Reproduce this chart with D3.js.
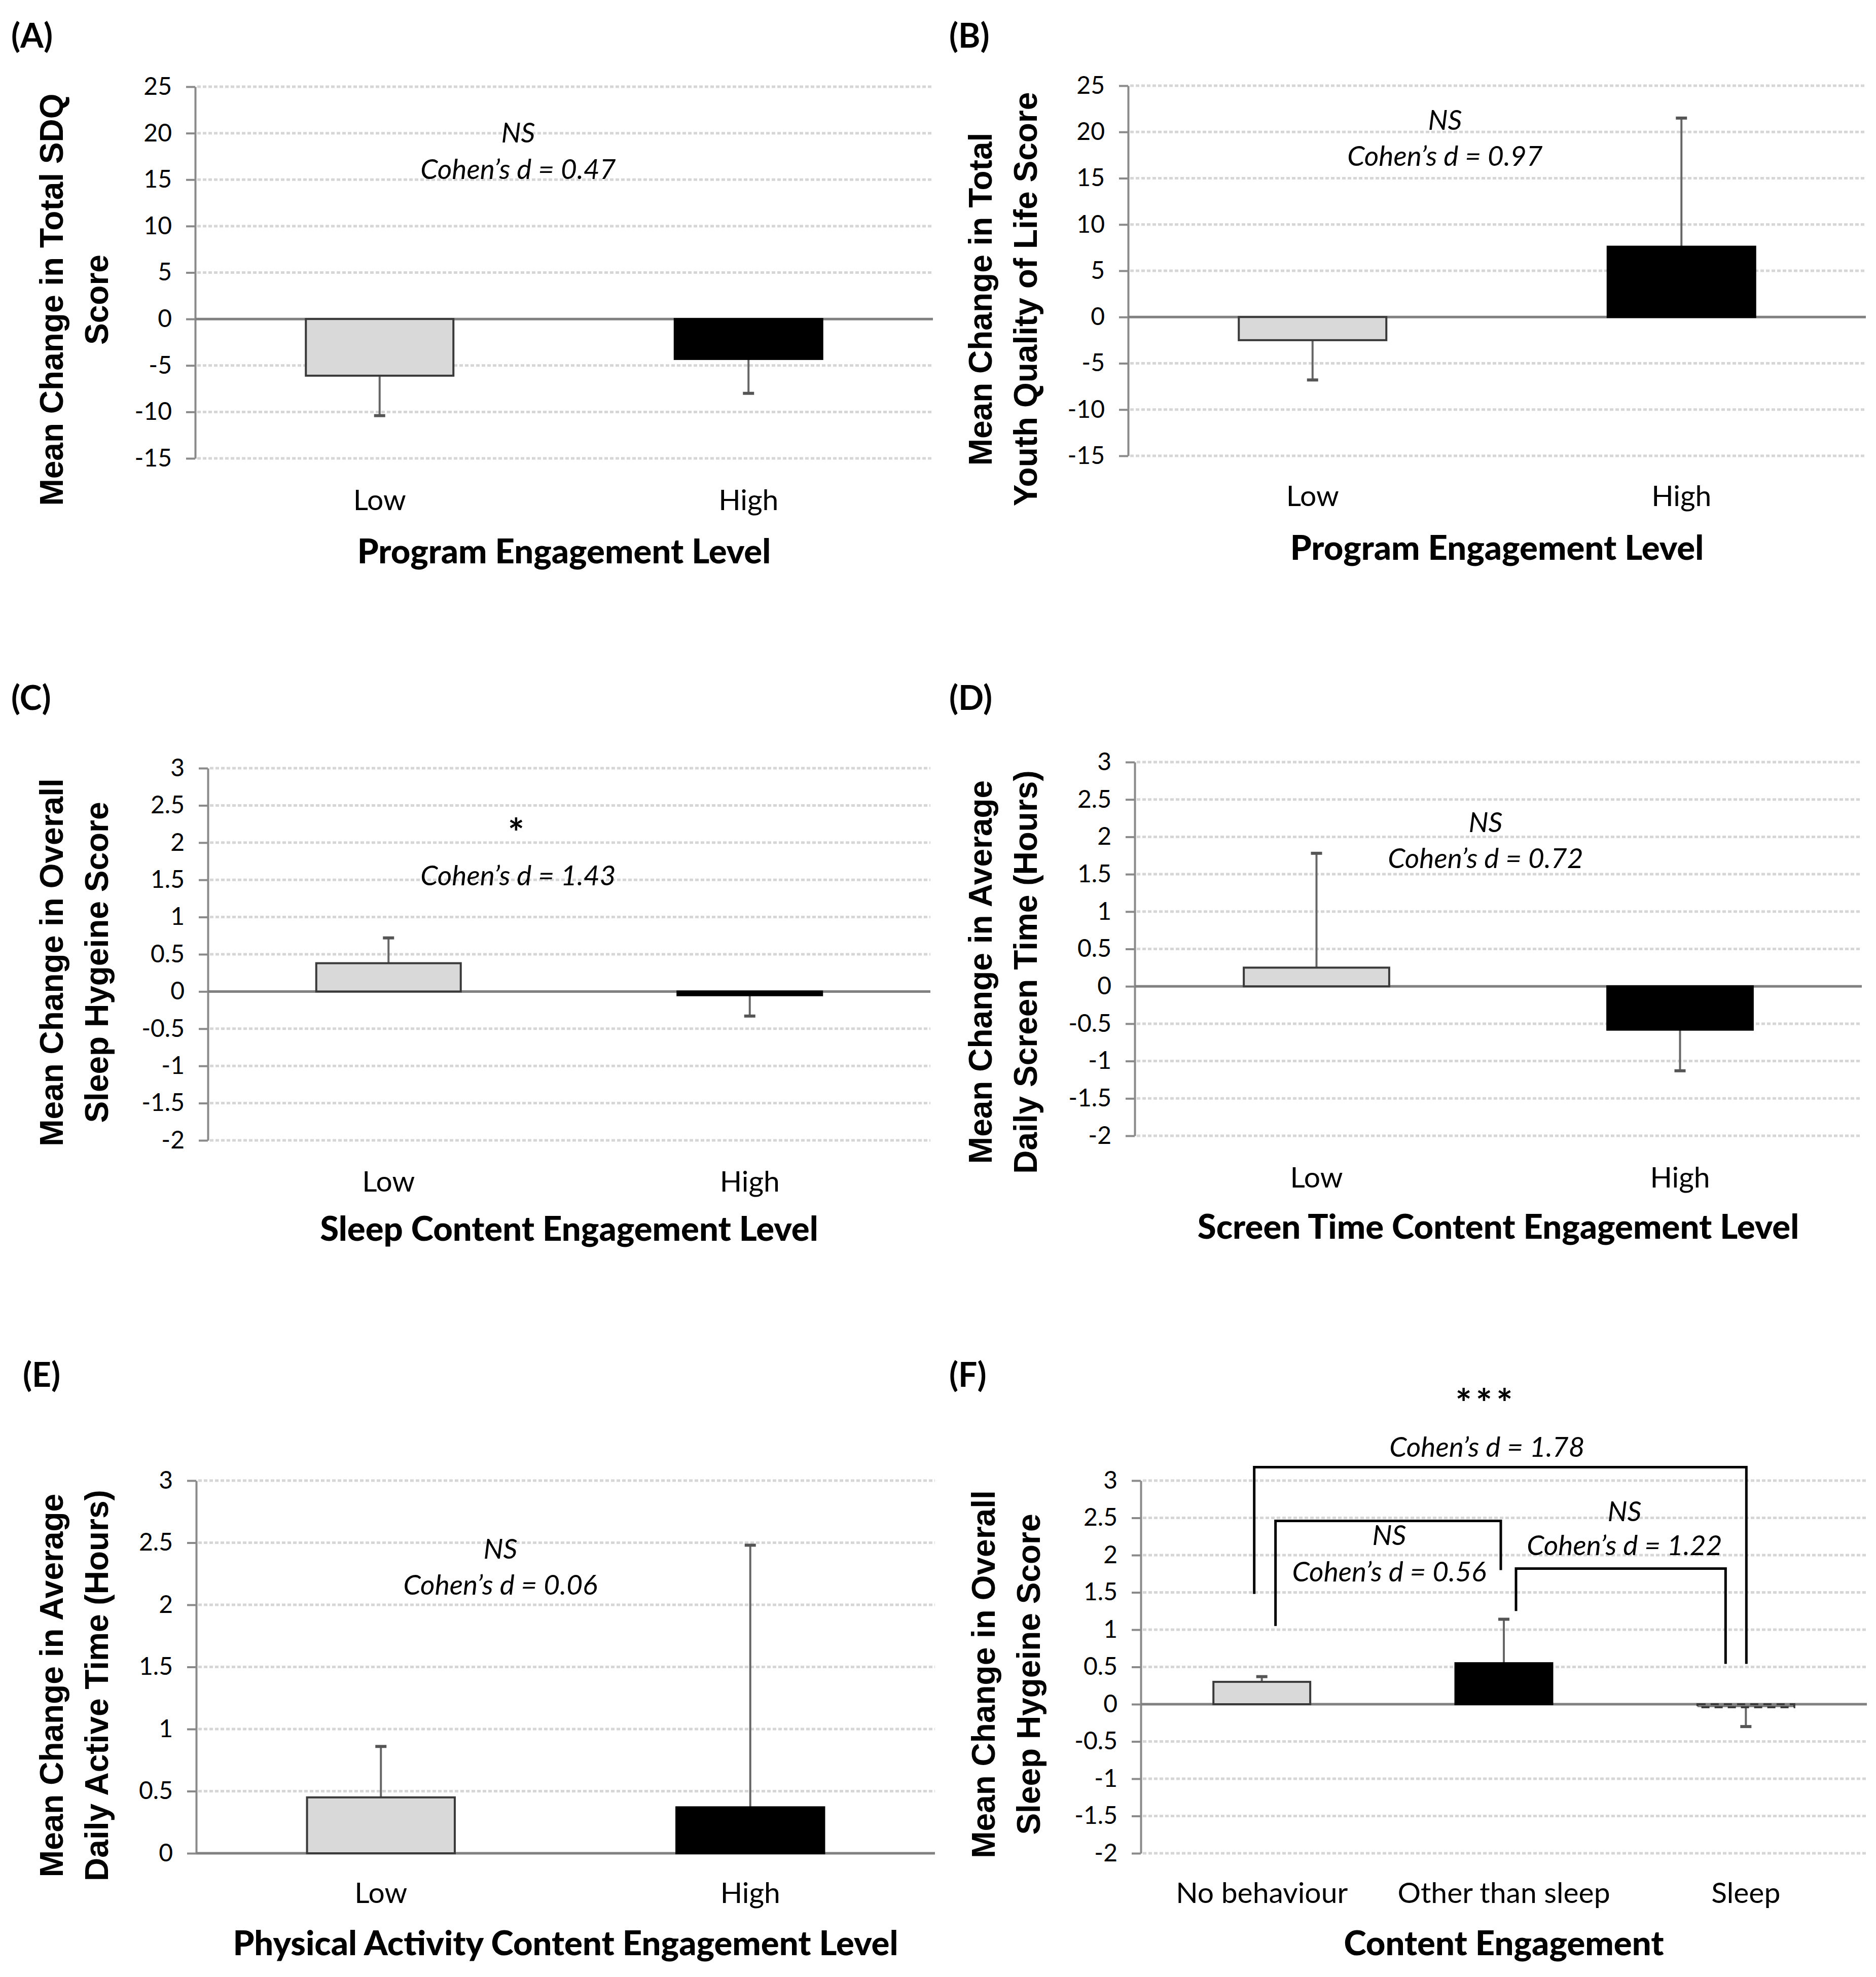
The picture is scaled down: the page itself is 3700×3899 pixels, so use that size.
<!DOCTYPE html>
<html>
<head>
<meta charset="utf-8">
<script src="https://cdn.jsdelivr.net/npm/d3@7"></script>
<style>
  body { margin: 0; background: #fff; }
</style>
</head>
<body>
<div id="chart"></div>
<script>
// canvas size, same as the reference picture
var svgWidth = 3700;
var svgHeight = 3899;

// categories
var levelCats = ["Low", "High"];
var contentCats = ["No behaviour", "Other than sleep", "Sleep"];

// mean change per bar
var sdqMeans = [-6.1, -4.3];
var qolMeans = [-2.5, 7.6];
var sleepMeans = [0.38, -0.05];
var screenMeans = [0.25, -0.58];
var activeMeans = [0.45, 0.37];
var contentMeans = [0.3, 0.55, -0.04];

// error bar length (drawn away from zero, one sided)
var sdqErrs = [4.3, 3.7];
var qolErrs = [4.3, 13.9];
var sleepErrs = [0.34, 0.28];
var screenErrs = [1.53, 0.55];
var activeErrs = [0.41, 2.11];
var contentErrs = [0.07, 0.59, 0.26];

// y tick values
var scoreTicks = [-15, -10, -5, 0, 5, 10, 15, 20, 25];
var smallTicks = [-2, -1.5, -1, -0.5, 0, 0.5, 1, 1.5, 2, 2.5, 3];
var activeTicks = [0, 0.5, 1, 1.5, 2, 2.5, 3];

// significance + effect size labels (A..E)
var sigLabels = ["NS", "NS", "*", "NS", "NS"];
var cohenLabels = ["Cohen\u2019s d = 0.47", "Cohen\u2019s d = 0.97", "Cohen\u2019s d = 1.43",
  "Cohen\u2019s d = 0.72", "Cohen\u2019s d = 0.06"];

// panel F comparisons: [from, to]
var fPairs = [[0, 2], [0, 1], [1, 2]];
var fSig = ["***", "NS", "NS"];
var fCohen = ["Cohen\u2019s d = 1.78", "Cohen\u2019s d = 0.56", "Cohen\u2019s d = 1.22"];

var levelFills = ["#d9d9d9", "#000000"];
var contentFills = ["#d9d9d9", "#000000", "#808080"];

var normalFont = "Lato, 'Open Sans', sans-serif";
var titleFont = "'Liberation Sans', Arial, sans-serif";

var svg = d3.select("#chart")
  .append("svg")
  .attr("width", svgWidth)
  .attr("height", svgHeight)
  .style("background", "#fff");

// layout of every panel (pixels)
var panels = [
  { tag: "(A)", tagX: 22, tagY: 94, x0: 385, x1: 1840, yTop: 171, yBot: 904,
    ticks: scoreTicks, cats: levelCats, means: sdqMeans, errs: sdqErrs, fills: levelFills,
    yTitle: ["Mean Change in Total SDQ", "Score"], yTitleX: [124, 213], yTitleY: 591,
    xTitle: "Program Engagement Level", xTitleY: 1087, catY: 985,
    notes: [[sigLabels[0], 1022, 261], [cohenLabels[0], 1022, 333]] },
  { tag: "(B)", tagX: 1872, tagY: 94, x0: 2225, x1: 3680, yTop: 169, yBot: 899,
    ticks: scoreTicks, cats: levelCats, means: qolMeans, errs: qolErrs, fills: levelFills,
    yTitle: ["Mean Change in Total", "Youth Quality of Life Score"], yTitleX: [1956, 2045], yTitleY: 590,
    xTitle: "Program Engagement Level", xTitleY: 1080, catY: 977,
    notes: [[sigLabels[1], 2850, 236], [cohenLabels[1], 2850, 307]] },
  { tag: "(C)", tagX: 22, tagY: 1400, x0: 410, x1: 1835, yTop: 1515, yBot: 2249,
    ticks: smallTicks, cats: levelCats, means: sleepMeans, errs: sleepErrs, fills: levelFills,
    yTitle: ["Mean Change in Overall", "Sleep Hygeine Score"], yTitleX: [124, 213], yTitleY: 1898,
    xTitle: "Sleep Content Engagement Level", xTitleY: 2423, catY: 2329,
    notes: [[sigLabels[2], 1022, 1624], [cohenLabels[2], 1022, 1726]] },
  { tag: "(D)", tagX: 1872, tagY: 1400, x0: 2238, x1: 3672, yTop: 1503, yBot: 2240,
    ticks: smallTicks, cats: levelCats, means: screenMeans, errs: screenErrs, fills: levelFills,
    yTitle: ["Mean Change in Average", "Daily Screen Time (Hours)"], yTitleX: [1956, 2045], yTitleY: 1917,
    xTitle: "Screen Time Content Engagement Level", xTitleY: 2419, catY: 2321,
    notes: [[sigLabels[3], 2930, 1621], [cohenLabels[3], 2930, 1692]] },
  { tag: "(E)", tagX: 45, tagY: 2735, x0: 387, x1: 1844, yTop: 2920, yBot: 3655,
    ticks: activeTicks, cats: levelCats, means: activeMeans, errs: activeErrs, fills: levelFills,
    yTitle: ["Mean Change in Average", "Daily Active Time (Hours)"], yTitleX: [124, 213], yTitleY: 3324,
    xTitle: "Physical Activity Content Engagement Level", xTitleY: 3832, catY: 3732,
    notes: [[sigLabels[4], 987, 3054], [cohenLabels[4], 987, 3125]] },
  { tag: "(F)", tagX: 1872, tagY: 2735, x0: 2250, x1: 3682, yTop: 2920, yBot: 3655,
    ticks: smallTicks, cats: contentCats, means: contentMeans, errs: contentErrs, fills: contentFills,
    yTitle: ["Mean Change in Overall", "Sleep Hygeine Score"], yTitleX: [1962, 2051], yTitleY: 3302,
    xTitle: "Content Engagement", xTitleY: 3832, catY: 3732,
    notes: [[fSig[0], 2931, 2749], [fCohen[0], 2933, 2853],
            [fSig[1], 2740, 3027], [fCohen[1], 2740, 3099],
            [fSig[2], 3204, 2980], [fCohen[2], 3204, 3047]] }
];

// bracket geometry for panel F: top / end heights in data units, x offsets from category centre
var fBrackets = [
  { top: 3.18, leftEnd: 1.48, rightEnd: 0.54, dxL: -15, dxR: 1 },
  { top: 2.46, leftEnd: 1.05, rightEnd: 1.80, dxL: 27, dxR: -6 },
  { top: 1.82, leftEnd: 1.25, rightEnd: 0.54, dxL: 24, dxR: -40 }
];

function drawPanel(p) {
  var g = svg.append("g");

  g.append("text")
    .attr("x", p.tagX)
    .attr("y", p.tagY)
    .attr("font-family", normalFont)
    .attr("font-weight", "bold")
    .attr("font-size", 66)
    .text(p.tag);

  var xScale = d3.scaleBand()
    .domain(p.cats)
    .range([p.x0, p.x1])
    .paddingInner(0.6)
    .paddingOuter(0.3);

  var yScale = d3.scaleLinear()
    .domain([p.ticks[0], p.ticks[p.ticks.length - 1]])
    .range([p.yBot, p.yTop]);

  // dotted gridlines
  g.selectAll(".grid")
    .data(p.ticks.filter(t => t !== 0))
    .enter()
    .append("line")
    .attr("x1", p.x0 + 4)
    .attr("x2", p.x1)
    .attr("y1", d => yScale(d))
    .attr("y2", d => yScale(d))
    .attr("stroke", "#d6d6d6")
    .attr("stroke-width", 5)
    .attr("stroke-dasharray", "7 4");

  // y axis
  var yAxis = g.append("g")
    .attr("transform", `translate(${p.x0},0)`)
    .call(d3.axisLeft(yScale)
      .tickValues(p.ticks)
      .tickSize(18)
      .tickSizeOuter(0)
      .tickPadding(28)
      .tickFormat(d => String(d)));
  yAxis.attr("font-family", normalFont).attr("font-size", 48);
  yAxis.select(".domain").attr("stroke", "#8a8a8a").attr("stroke-width", 4);
  yAxis.selectAll(".tick line").attr("stroke", "#8a8a8a").attr("stroke-width", 4);
  yAxis.selectAll(".tick text").attr("fill", "#000");

  // zero line
  g.append("line")
    .attr("x1", p.x0)
    .attr("x2", p.x1)
    .attr("y1", yScale(0))
    .attr("y2", yScale(0))
    .attr("stroke", "#808080")
    .attr("stroke-width", 5);

  var rows = p.cats.map((c, i) => ({ cat: c, mean: p.means[i], err: p.errs[i], fill: p.fills[i] }));

  // error bars (under the bars)
  var errGroup = g.selectAll(".err")
    .data(rows)
    .enter()
    .append("g");
  errGroup.append("line")
    .attr("x1", d => xScale(d.cat) + xScale.bandwidth() / 2)
    .attr("x2", d => xScale(d.cat) + xScale.bandwidth() / 2)
    .attr("y1", d => yScale(d.mean))
    .attr("y2", d => yScale(d.mean + Math.sign(d.mean) * d.err))
    .attr("stroke", "#666")
    .attr("stroke-width", 4);
  errGroup.append("line")
    .attr("x1", d => xScale(d.cat) + xScale.bandwidth() / 2 - 11)
    .attr("x2", d => xScale(d.cat) + xScale.bandwidth() / 2 + 11)
    .attr("y1", d => yScale(d.mean + Math.sign(d.mean) * d.err))
    .attr("y2", d => yScale(d.mean + Math.sign(d.mean) * d.err))
    .attr("stroke", "#555")
    .attr("stroke-width", 6);

  // bars
  g.selectAll(".bar")
    .data(rows)
    .enter()
    .append("rect")
    .attr("x", d => xScale(d.cat))
    .attr("width", xScale.bandwidth())
    .attr("y", d => yScale(Math.max(0, d.mean)))
    .attr("height", d => Math.abs(yScale(d.mean) - yScale(0)))
    .attr("fill", d => d.fill)
    .attr("stroke", d => d.fill === "#000000" ? "#000" : "#3a3a3a")
    .attr("stroke-width", 4)
    .attr("stroke-dasharray", d => d.fill === "#808080" ? "16 10" : null);

  // category labels
  g.selectAll(".cat")
    .data(p.cats)
    .enter()
    .append("text")
    .attr("x", d => xScale(d) + xScale.bandwidth() / 2)
    .attr("y", p.catY)
    .attr("dy", "0.36em")
    .attr("text-anchor", "middle")
    .attr("font-family", normalFont)
    .attr("font-size", 57)
    .text(d => d);

  // x title
  g.append("text")
    .attr("x", (p.x0 + p.x1) / 2)
    .attr("y", p.xTitleY)
    .attr("dy", "0.36em")
    .attr("text-anchor", "middle")
    .attr("font-family", normalFont)
    .attr("font-weight", "900")
    .attr("font-size", 67)
    .text(p.xTitle);

  // y title, two rotated lines
  p.yTitle.forEach((line, i) => {
    g.append("text")
      .attr("transform", `translate(${p.yTitleX[i]},${p.yTitleY}) rotate(-90)`)
      .attr("text-anchor", "middle")
      .attr("font-family", titleFont)
      .attr("font-weight", "bold")
      .attr("font-size", 64)
      .text(line);
  });

  // significance notes
  p.notes.forEach(n => {
    var isStar = n[0].indexOf("*") === 0;
    g.append("text")
      .attr("x", n[1])
      .attr("y", n[2])
      .attr("dy", isStar ? "0.6em" : "0.36em")
      .attr("text-anchor", "middle")
      .attr("font-family", normalFont)
      .attr("font-style", isStar ? "normal" : "italic")
      .attr("font-weight", isStar ? "bold" : "normal")
      .attr("font-size", isStar ? 76 : 55)
      .attr("letter-spacing", isStar ? 8 : 0)
      .text(n[0]);
  });

  return { g: g, x: xScale, y: yScale };
}

var drawn = panels.map(drawPanel);

// brackets for panel F
var pf = drawn[5];
fPairs.forEach((pair, i) => {
  var b = fBrackets[i];
  var cx0 = pf.x(contentCats[pair[0]]) + pf.x.bandwidth() / 2 + b.dxL;
  var cx1 = pf.x(contentCats[pair[1]]) + pf.x.bandwidth() / 2 + b.dxR;
  var path = d3.path();
  path.moveTo(cx0, pf.y(b.leftEnd));
  path.lineTo(cx0, pf.y(b.top));
  path.lineTo(cx1, pf.y(b.top));
  path.lineTo(cx1, pf.y(b.rightEnd));
  pf.g.append("path")
    .attr("d", path.toString())
    .attr("fill", "none")
    .attr("stroke", "#000")
    .attr("stroke-width", 5);
});
</script>
</body>
</html>
